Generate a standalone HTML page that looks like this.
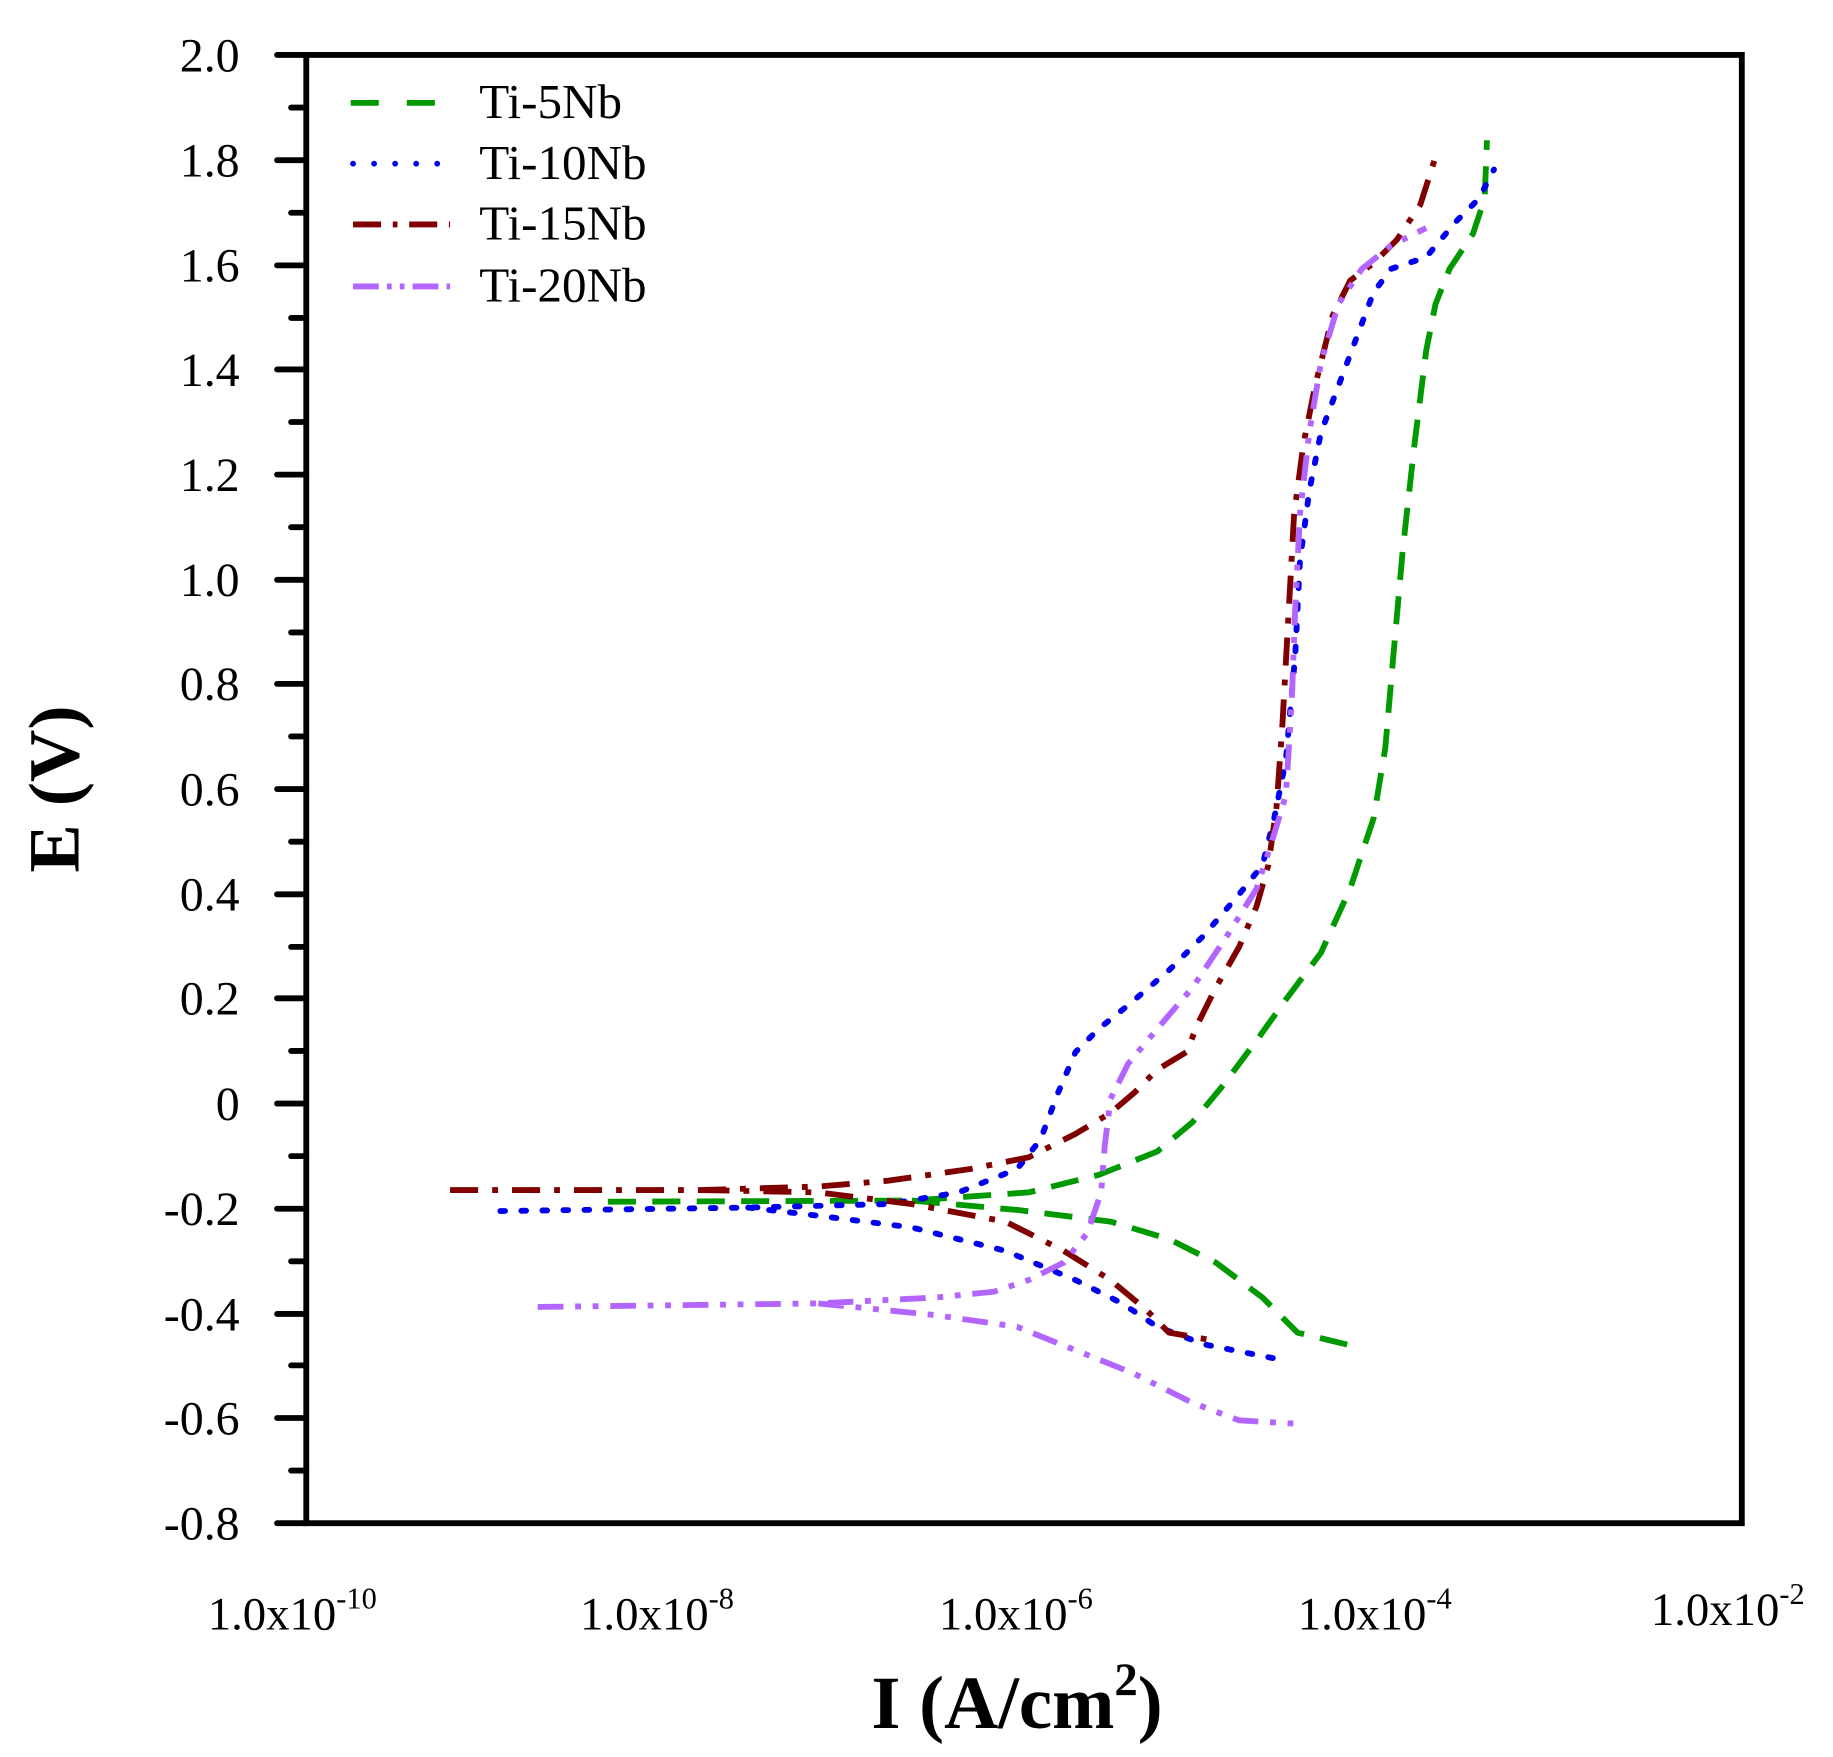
<!DOCTYPE html>
<html><head><meta charset="utf-8"><style>
html,body{margin:0;padding:0;background:#fff}
svg{display:block}
text{font-family:"Liberation Serif",serif;fill:#000}
</style></head><body>
<svg width="1833" height="1757" viewBox="0 0 1568 1503" preserveAspectRatio="none" xmlns="http://www.w3.org/2000/svg">
<g stroke="#000" stroke-width="5" fill="none">
<rect x="262" y="47" width="1228" height="1256"/>
</g>
<g stroke="#000" stroke-width="5" stroke-linecap="round">
<line x1="237" y1="47" x2="262" y2="47"/><line x1="237" y1="137" x2="262" y2="137"/><line x1="237" y1="227" x2="262" y2="227"/><line x1="237" y1="316" x2="262" y2="316"/><line x1="237" y1="406" x2="262" y2="406"/><line x1="237" y1="496" x2="262" y2="496"/><line x1="237" y1="585" x2="262" y2="585"/><line x1="237" y1="675" x2="262" y2="675"/><line x1="237" y1="765" x2="262" y2="765"/><line x1="237" y1="854" x2="262" y2="854"/><line x1="237" y1="944" x2="262" y2="944"/><line x1="237" y1="1034" x2="262" y2="1034"/><line x1="237" y1="1124" x2="262" y2="1124"/><line x1="237" y1="1213" x2="262" y2="1213"/><line x1="237" y1="1303" x2="262" y2="1303"/>
<line x1="249" y1="92" x2="262" y2="92"/><line x1="249" y1="182" x2="262" y2="182"/><line x1="249" y1="272" x2="262" y2="272"/><line x1="249" y1="361" x2="262" y2="361"/><line x1="249" y1="451" x2="262" y2="451"/><line x1="249" y1="541" x2="262" y2="541"/><line x1="249" y1="630" x2="262" y2="630"/><line x1="249" y1="720" x2="262" y2="720"/><line x1="249" y1="810" x2="262" y2="810"/><line x1="249" y1="899" x2="262" y2="899"/><line x1="249" y1="989" x2="262" y2="989"/><line x1="249" y1="1079" x2="262" y2="1079"/><line x1="249" y1="1168" x2="262" y2="1168"/><line x1="249" y1="1258" x2="262" y2="1258"/>
</g>
<g id="xt" stroke="#000" stroke-width="3"></g>
<g font-size="41" text-anchor="end">
<text x="205" y="61">2.0</text><text x="205" y="151">1.8</text><text x="205" y="241">1.6</text><text x="205" y="330">1.4</text><text x="205" y="420">1.2</text><text x="205" y="510">1.0</text><text x="205" y="599">0.8</text><text x="205" y="689">0.6</text><text x="205" y="779">0.4</text><text x="205" y="868">0.2</text><text x="205" y="958">0</text><text x="205" y="1048">-0.2</text><text x="205" y="1138">-0.4</text><text x="205" y="1227">-0.6</text><text x="205" y="1317">-0.8</text>
</g>
<g font-size="40" text-anchor="middle">
<text x="250" y="1394">1.0x10<tspan font-size="26" dy="-18">-10</tspan></text>
<text x="562" y="1394">1.0x10<tspan font-size="26" dy="-18">-8</tspan></text>
<text x="869" y="1394">1.0x10<tspan font-size="26" dy="-18">-6</tspan></text>
<text x="1176" y="1394">1.0x10<tspan font-size="26" dy="-18">-4</tspan></text>
<text x="1478" y="1390">1.0x10<tspan font-size="26" dy="-18">-2</tspan></text>
</g>
<text x="870" y="1478" font-size="64" font-weight="bold" text-anchor="middle">I (A/cm<tspan font-size="40" dy="-28">2</tspan><tspan dy="28">)</tspan></text>
<text transform="translate(67,675) rotate(-90)" font-size="62" font-weight="bold" text-anchor="middle">E (V)</text>
<g fill="none" stroke-width="5" stroke-linejoin="round">
<path stroke="#009900" stroke-dasharray="24,14" d="M520,1028 L780,1027 L880,1020 L940,1005 L990,985 L1020,960 L1045,930 L1075,890 L1100,855 L1130,815 L1155,760 L1175,700 L1185,640 L1192,560 L1200,470 L1210,380 L1220,300 L1228,260 L1240,230 L1260,200 L1270,170 L1272,120 M780,1027 L870,1035 L950,1045 L1000,1060 L1040,1080 L1080,1110 L1110,1140 L1160,1152"/>
<path stroke="#0000ee" stroke-dasharray="4,14" stroke-linecap="round" d="M428,1036 L640,1033 L760,1030 L820,1020 L870,1000 L890,975 L905,935 L920,900 L940,880 L965,860 L1000,830 L1030,800 L1060,765 L1080,740 L1090,700 L1100,650 L1108,560 L1112,480 L1120,420 L1130,370 L1145,330 L1160,290 L1175,250 L1190,230 L1220,220 L1245,190 L1265,170 L1278,145 M640,1033 L700,1040 L780,1050 L860,1070 L920,1095 L960,1115 L990,1135 L1030,1150 L1090,1162"/>
<path stroke="#800000" stroke-dasharray="24,12,5,12" d="M385,1018 L600,1018 L700,1015 L760,1010 L830,1000 L880,990 L920,970 L950,952 L970,935 L990,915 L1015,900 L1025,875 L1040,845 L1060,810 L1075,775 L1085,740 L1092,690 L1097,620 L1102,530 L1107,440 L1115,380 L1125,330 L1140,270 L1155,240 L1175,225 L1195,205 L1215,175 L1230,128 M600,1018 L700,1020 L780,1030 L860,1045 L910,1070 L950,1095 L980,1120 L1000,1140 L1040,1147"/>
<path stroke="#b266ff" stroke-dasharray="22,10,5,10,5,10" d="M460,1118 L700,1115 L800,1110 L850,1105 L880,1095 L910,1080 L930,1055 L942,1020 L945,980 L950,940 L965,910 L990,880 L1020,845 L1050,800 L1075,760 L1088,720 L1100,680 L1105,600 L1108,520 L1112,440 L1120,370 L1130,310 L1145,260 L1165,230 L1190,210 L1220,195 M700,1115 L800,1125 L870,1135 L920,1155 L970,1175 L1020,1200 L1060,1215 L1110,1218"/>
</g>
<g fill="none" stroke-width="5">
<line x1="300" y1="88" x2="385" y2="88" stroke="#009900" stroke-dasharray="24,24"/>
<line x1="302" y1="140" x2="385" y2="140" stroke="#0000ee" stroke-dasharray="0,18" stroke-linecap="round"/>
<line x1="302" y1="192" x2="385" y2="192" stroke="#800000" stroke-dasharray="24,10,4,10"/>
<line x1="302" y1="245" x2="385" y2="245" stroke="#b266ff" stroke-dasharray="22,7,4,7,4,7"/>
</g>
<g font-size="42">
<text x="410" y="101">Ti-5Nb</text><text x="410" y="153">Ti-10Nb</text><text x="410" y="205">Ti-15Nb</text><text x="410" y="258">Ti-20Nb</text>
</g>
<script>
var g=document.getElementById('xt'),s='';
for(var d=0;d<=8;d++){var x0=262+d*153.5;
if(d%2==0)s+='<line x1="'+x0+'" y1="1303" x2="'+x0+'" y2="1332"/>';
else{for(var k=2;k<=9;k++){var x=x0+Math.log10(k)*153.5;s+='<line x1="'+x+'" y1="1303" x2="'+x+'" y2="1318"/>';}}}
g.innerHTML=s;
</script>
</svg>
</body></html>
